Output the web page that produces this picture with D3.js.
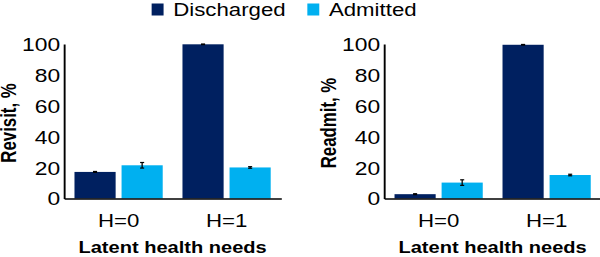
<!DOCTYPE html>
<html>
<head>
<meta charset="utf-8">
<script src="https://cdn.jsdelivr.net/npm/d3@7"></script>
<style>
  html, body { margin: 0; padding: 0; background: #fff; }
  svg { display: block; }
  text { font-family: "Liberation Sans", Arial, sans-serif; fill: #000; }
  .axis-title { font-weight: bold; }
</style>
</head>
<body>
<div id="chart"></div>
<script>
// ---- data ----
const groups = ["H=0", "H=1"];
const series = ["Discharged", "Admitted"];
const colors = ["#002060", "#00B0F0"];
const yTicks = [0, 20, 40, 60, 80, 100];

const revisitDischarged = [17.2, 99.8];
const revisitAdmitted = [21.5, 20.1];
const revisitDischargedErr = [0.3, 0.2];
const revisitAdmittedErr = [1.8, 0.5];

const readmitDischarged = [2.8, 99.5];
const readmitAdmitted = [10.3, 15.2];
const readmitDischargedErr = [0.3, 0.2];
const readmitAdmittedErr = [1.8, 0.5];

// The reference picture is stretched horizontally; draw in a narrower
// coordinate system and let the viewBox stretch it to 600px.
const SX = 1.27;
const W = 600 / SX, H = 257;

const svg = d3.select("#chart").append("svg")
  .attr("width", 600)
  .attr("height", 257)
  .attr("viewBox", `0 0 ${W} ${H}`)
  .attr("preserveAspectRatio", "none");

const panels = [
  { left: 50.4, title: "Revisit, %", labelX: 12.8, vals: [revisitDischarged, revisitAdmitted], errs: [revisitDischargedErr, revisitAdmittedErr] },
  { left: 302.4, title: "Readmit, %", labelX: 264.5, vals: [readmitDischarged, readmitAdmitted], errs: [readmitDischargedErr, readmitAdmittedErr] }
];

const plotW = 171, plotTop = 44, plotBottom = 198.5;

panels.forEach(p => {
  const g = svg.append("g").attr("transform", `translate(${p.left},0)`);

  const x0 = d3.scaleBand().domain(groups).range([0, plotW]).paddingInner(0.183).paddingOuter(0.097);
  const x1 = d3.scaleBand().domain(series).range([0, x0.bandwidth()]).paddingInner(0.126);
  const y = d3.scaleLinear().domain([0, 100]).range([plotBottom, plotTop]);

  // bars
  const rows = [];
  groups.forEach((grp, i) => series.forEach((s, j) => rows.push({ grp, s, j, v: p.vals[j][i], e: p.errs[j][i] })));

  g.selectAll(".bar").data(rows).enter().append("rect")
    .attr("class", "bar")
    .attr("x", d => x0(d.grp) + x1(d.s))
    .attr("y", d => y(d.v))
    .attr("width", x1.bandwidth())
    .attr("height", d => plotBottom - y(d.v))
    .attr("fill", d => colors[d.j]);

  // error bars
  const cap = 1.6;
  const eb = g.selectAll(".err").data(rows).enter().append("g").attr("class", "err")
    .attr("transform", d => `translate(${x0(d.grp) + x1(d.s) + x1.bandwidth() / 2},0)`);
  eb.append("line").attr("y1", d => y(d.v - d.e)).attr("y2", d => y(d.v + d.e))
    .attr("stroke", "#000").attr("stroke-width", 1);
  eb.append("line").attr("x1", -cap).attr("x2", cap).attr("y1", d => y(d.v + d.e)).attr("y2", d => y(d.v + d.e))
    .attr("stroke", "#000").attr("stroke-width", 1.2);
  eb.append("line").attr("x1", -cap).attr("x2", cap).attr("y1", d => y(d.v - d.e)).attr("y2", d => y(d.v - d.e))
    .attr("stroke", "#000").attr("stroke-width", 1.2);

  // y axis
  const yAxis = g.append("g").call(d3.axisLeft(y).tickValues(yTicks).tickSize(0).tickPadding(3).tickSizeOuter(0));
  yAxis.select(".domain").attr("stroke", "#000").attr("stroke-width", 1.5);
  yAxis.selectAll("text").style("font-size", "18px").style("font-family", "Liberation Sans, Arial, sans-serif")
    .attr("dy", "0.36em");

  // x axis
  const xAxis = g.append("g").attr("transform", `translate(0,${plotBottom})`)
    .call(d3.axisBottom(x0).tickSize(0).tickPadding(16).tickSizeOuter(0));
  xAxis.select(".domain").attr("stroke", "#000").attr("stroke-width", 1.5);
  xAxis.selectAll("text").style("font-size", "17.5px").style("font-family", "Liberation Sans, Arial, sans-serif");

  // axis titles
  g.append("text").attr("class", "axis-title")
    .attr("x", plotW / 2).attr("y", 253)
    .attr("text-anchor", "middle").style("font-size", "15.8px")
    .text("Latent health needs");

  svg.append("text").attr("class", "axis-title")
    .attr("transform", `translate(${p.labelX},123) rotate(-90)`)
    .attr("text-anchor", "middle").style("font-size", "16.8px")
    .text(p.title);
});

// legend
const legendPos = [119.4, 242];
const legend = svg.selectAll(".legend").data(series).enter().append("g")
  .attr("class", "legend")
  .attr("transform", (d, i) => `translate(${legendPos[i]},0)`);
legend.append("rect").attr("x", 0).attr("y", 3.5).attr("width", 9.4).attr("height", 12)
  .attr("fill", (d, i) => colors[i]);
legend.append("text").attr("x", 17).attr("y", 16).style("font-size", "17.5px").text(d => d);
</script>
</body>
</html>
